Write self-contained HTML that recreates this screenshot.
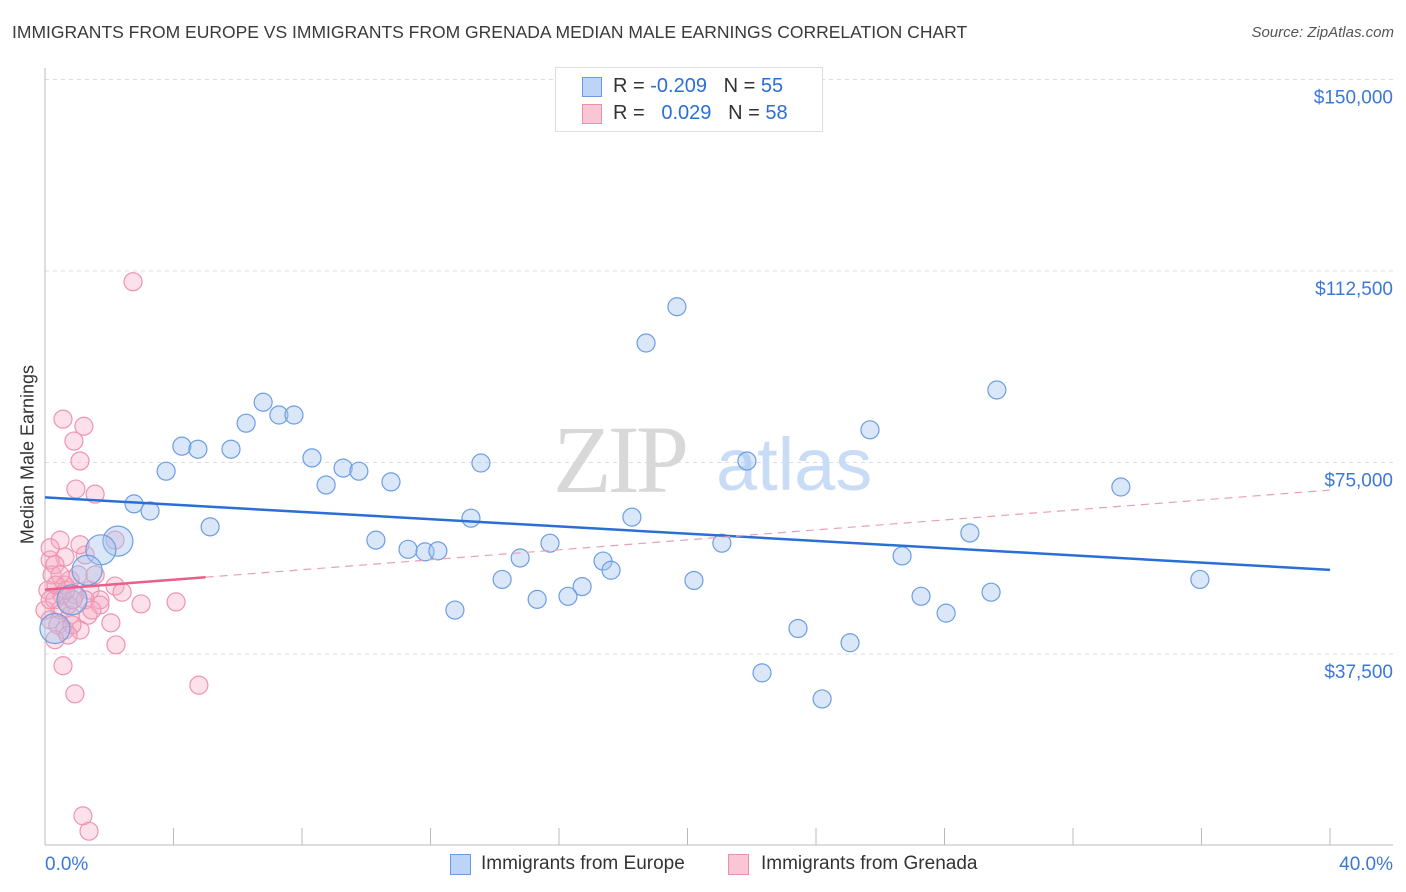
<!DOCTYPE html>
<html><head><meta charset="utf-8"><style>
body{margin:0;background:#fff;font-family:"Liberation Sans",sans-serif;}
#wrap{position:relative;width:1406px;height:892px;overflow:hidden;}
.t{position:absolute;white-space:nowrap;}
</style></head><body>
<div id="wrap">
<div class="t" style="left:12px;top:22px;font-size:17.5px;color:#3a3a3a;">IMMIGRANTS FROM EUROPE VS IMMIGRANTS FROM GRENADA MEDIAN MALE EARNINGS CORRELATION CHART</div>
<div class="t" style="right:12px;top:24px;font-size:15px;color:#555;font-style:italic;">Source: ZipAtlas.com</div>
<div class="t" style="left:-72px;top:444px;width:200px;text-align:center;font-size:18px;color:#333;transform:rotate(-90deg);">Median Male Earnings</div>
<svg id="svg" width="1406" height="892" style="position:absolute;left:0;top:0"></svg>
<div style="position:absolute;left:555px;top:67px;width:266px;height:63px;border:1px solid #ddd;background:#fff;font-size:20px;">
 <div style="position:absolute;left:26px;top:9px;width:18px;height:18px;background:#bcd4f5;border:1px solid #6a9be0;"></div>
 <div class="t" style="left:57px;top:7px;color:#333;">R = <span style="color:#2a6fd6">-0.209</span>&nbsp;&nbsp;&nbsp;N = <span style="color:#2a6fd6">55</span></div>
 <div style="position:absolute;left:26px;top:36px;width:18px;height:18px;background:#f9c6d5;border:1px solid #ec8fab;"></div>
 <div class="t" style="left:57px;top:34px;color:#333;">R = &nbsp;&nbsp;<span style="color:#2a6fd6">0.029</span>&nbsp;&nbsp;&nbsp;N = <span style="color:#2a6fd6">58</span></div>
</div>
<div style="position:absolute;left:450px;top:854px;width:19px;height:19px;background:#bcd4f5;border:1px solid #6a9be0;"></div>
<div class="t" style="left:481px;top:853px;font-size:19px;color:#333;">Immigrants from Europe</div>
<div style="position:absolute;left:728px;top:854px;width:19px;height:19px;background:#f9c6d5;border:1px solid #ec8fab;"></div>
<div class="t" style="left:761px;top:853px;font-size:19px;color:#333;">Immigrants from Grenada</div>
</div>
<script>
const yTicks=[37500,75000,112500,150000];
const yTickLabels=["$37,500","$75,000","$112,500","$150,000"];
const xEndLabels=["0.0%","40.0%"];
const europeX=[19.67,18.71,29.63,6.79,6.26,7.28,7.75,25.68,4.26,4.76,5.79,8.31,13.57,21.85,3.77,9.28,9.77,8.75,10.77,33.49,2.77,3.27,13.26,18.27,5.14,28.79,10.30,15.72,21.07,11.30,11.83,12.23,14.79,17.37,26.68,17.62,2.27,1.74,1.31,14.23,20.20,35.95,16.72,16.28,15.32,27.27,29.45,12.76,28.05,23.44,25.06,22.32,24.19,0.84,0.31];
const europeY=[105.5,98.4,89.2,86.8,82.7,84.3,84.3,81.4,78.2,77.6,77.6,75.9,74.9,75.3,73.3,73.9,73.3,70.6,71.2,70.2,66.9,65.5,64.1,64.3,62.4,61.2,59.8,59.2,59.2,58.0,57.5,57.7,56.3,55.7,56.7,53.9,59.6,57.9,53.9,52.1,51.9,52.1,50.7,48.8,48.2,48.8,49.6,46.1,45.5,42.5,39.7,33.8,28.7,48.1,42.5];
const europeBig=[36,37,38,53,54];
const grenadaX=[2.74,.56,1.21,.90,1.09,.96,1.56,.47,2.18,.62,.16,.22,.09,.62,.78,1.25,2.18,2.40,2.99,4.08,2.05,2.21,.56,.93,4.79,1.18,1.37,.31,.47,.78,.16,.40,.62,1.09,.72,.93,1.40,1.71,.16,.31,.53,0,.84,1.25,1.03,.47,1.56,.31,.72,1.09,1.71,.87,.16,1.34,.65,1.46,.34];
const grenadaY=[110.4,83.5,82.1,79.2,75.3,69.8,68.8,59.8,59.8,56.5,55.9,53.0,50.0,51.0,52.0,56.9,50.8,49.6,47.3,47.7,43.6,39.3,35.2,29.7,31.4,5.8,2.8,48.1,46.1,45.1,44.2,43.2,42.2,42.2,47.1,49.1,50.0,48.1,58.3,55.0,49.1,46.1,43.2,48.1,53.0,53.0,53.0,40.3,41.2,58.9,47.1,48.1,48.1,45.1,50.0,46.1,51.0];
const grenadaTrend=[50.1,69.6]; // trend value (k$) at 0% and 40%
const X0=45,X1=1330;
const xs=p=>X0+(X1-X0)*p/40;
const ys=v=>845.5-v*191.5/37500;
const ysk=k=>ys(k*1000);
const svg=document.getElementById('svg');
const NS='http://www.w3.org/2000/svg';
function mk(tag,attrs){const e=document.createElementNS(NS,tag);for(const k in attrs)e.setAttribute(k,attrs[k]);svg.appendChild(e);return e;}
yTicks.forEach((v,i)=>{
 const g=mk('line',{x1:45,x2:1393,y1:ys(v),y2:ys(v),stroke:'#ddd','stroke-dasharray':'4,4'});
 
 
 const t=mk('text',{x:1393,y:ys(v)+24,'text-anchor':'end','font-size':'19','fill':'#3b78d8','font-family':'Liberation Sans, sans-serif'});
 t.textContent=yTickLabels[i];
 
 
});
const ax=mk('line',{x1:45,x2:45,y1:68,y2:845,stroke:'#bbb'});


const bx=mk('line',{x1:45,x2:1393,y1:845,y2:845,stroke:'#bbb'});


for(let i=0;i<=10;i++){
 const tk=mk('line',{x1:xs(i*4),x2:xs(i*4),y1:828,y2:845,stroke:'#bbb'});
 
 
}
[[0,'start',45],[1,'end',1393]].forEach(([i,a,x])=>{
 const t=mk('text',{x:x,y:870,'text-anchor':a,'font-size':'19','fill':'#3b78d8','font-family':'Liberation Sans, sans-serif'});
 t.textContent=xEndLabels[i];
 
 
});
const w1=mk('text',{x:553,y:492,'font-size':'96','fill':'#d8d8d8','font-family':'Liberation Serif, serif','letter-spacing':'-4'});
w1.textContent='ZIP';


const w2=mk('text',{x:716,y:490,'font-size':'74','fill':'#c9dcf5','font-family':'Liberation Sans, sans-serif'});
w2.textContent='atlas';


function reg(X,Y){const n=X.length;let mx=0,my=0;for(let i=0;i<n;i++){mx+=X[i];my+=Y[i];}mx/=n;my/=n;let sxy=0,sxx=0;for(let i=0;i<n;i++){sxy+=(X[i]-mx)*(Y[i]-my);sxx+=(X[i]-mx)**2;}const b=sxy/sxx;return [my-b*mx,b];}
grenadaX.forEach((x,i)=>{
 const c=mk('circle',{cx:xs(x),cy:ysk(grenadaY[i]),r:9,fill:'rgba(246,170,195,0.35)',stroke:'#ee94b0','stroke-width':1.2});
 
 
});
europeX.forEach((x,i)=>{
 const big=europeBig.includes(i);
 const c=mk('circle',{cx:xs(x),cy:ysk(europeY[i]),r:big?15:9,fill:'rgba(160,195,240,0.4)',stroke:'#6c9ee2','stroke-width':1.2});
 
 
});
const [ea,eb]=reg(europeX,europeY);
const el=mk('line',{x1:xs(0),y1:ysk(ea),x2:xs(40),y2:ysk(ea+eb*40),stroke:'#2a6fd6','stroke-width':2.5});


const ga=grenadaTrend[0],gb=(grenadaTrend[1]-grenadaTrend[0])/40;
const gl=mk('line',{x1:xs(0),y1:ysk(ga),x2:xs(5),y2:ysk(ga+gb*5),stroke:'#e8608a','stroke-width':2.5});


const gd=mk('line',{x1:xs(5),y1:ysk(ga+gb*5),x2:xs(40),y2:ysk(ga+gb*40),stroke:'#e8a0b5','stroke-width':1.2,'stroke-dasharray':'8,6'});


</script>
</body></html>
